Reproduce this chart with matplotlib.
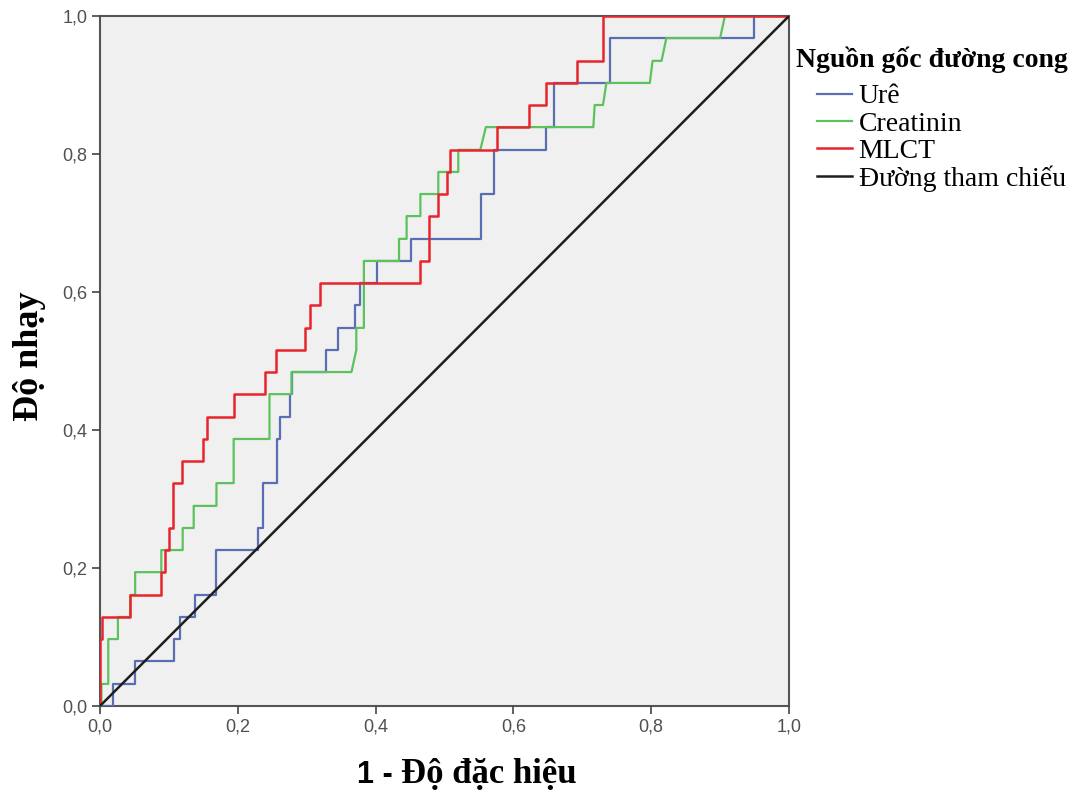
import matplotlib.pyplot as plt
from matplotlib.ticker import FuncFormatter

# ROC staircase vertices (1 - specificity, sensitivity)
ure_fpr = [0, 0.019, 0.019, 0.051, 0.051, 0.108, 0.108, 0.116, 0.116, 0.138, 0.138,
           0.169, 0.169, 0.230, 0.230, 0.237, 0.237, 0.257, 0.257, 0.261, 0.261,
           0.276, 0.276, 0.279, 0.279, 0.328, 0.328, 0.345, 0.345, 0.370, 0.370,
           0.377, 0.377, 0.402, 0.402, 0.452, 0.452, 0.553, 0.553, 0.572, 0.572,
           0.648, 0.648, 0.659, 0.659, 0.740, 0.740, 0.949, 0.949, 1.0]
ure_tpr = [0, 0, 0.032, 0.032, 0.065, 0.065, 0.097, 0.097, 0.129, 0.129, 0.161,
           0.161, 0.226, 0.226, 0.258, 0.258, 0.323, 0.323, 0.387, 0.387, 0.419,
           0.419, 0.452, 0.452, 0.484, 0.484, 0.516, 0.516, 0.548, 0.548, 0.581,
           0.581, 0.613, 0.613, 0.645, 0.645, 0.677, 0.677, 0.742, 0.742, 0.806,
           0.806, 0.839, 0.839, 0.903, 0.903, 0.968, 0.968, 1.0, 1.0]

creatinin_fpr = [0, 0.002, 0.002, 0.012, 0.012, 0.026, 0.026, 0.044, 0.044, 0.051, 0.051,
                 0.089, 0.089, 0.120, 0.120, 0.136, 0.136, 0.169, 0.169, 0.194, 0.194,
                 0.246, 0.246, 0.278, 0.278, 0.365, 0.372, 0.372, 0.383, 0.383, 0.434,
                 0.434, 0.445, 0.445, 0.465, 0.465, 0.491, 0.491, 0.520, 0.520, 0.552,
                 0.560, 0.716, 0.718, 0.730, 0.735, 0.798, 0.802, 0.815, 0.822, 0.900,
                 0.907, 1.0]
creatinin_tpr = [0, 0, 0.032, 0.032, 0.097, 0.097, 0.129, 0.129, 0.161, 0.161, 0.194,
                 0.194, 0.226, 0.226, 0.258, 0.258, 0.290, 0.290, 0.323, 0.323, 0.387,
                 0.387, 0.452, 0.452, 0.484, 0.484, 0.516, 0.548, 0.548, 0.645, 0.645,
                 0.677, 0.677, 0.710, 0.710, 0.742, 0.742, 0.774, 0.774, 0.806, 0.806,
                 0.839, 0.839, 0.871, 0.871, 0.903, 0.903, 0.935, 0.935, 0.968, 0.968,
                 1.0, 1.0]

mlct_fpr = [0, 0, 0.003, 0.003, 0.044, 0.044, 0.089, 0.089, 0.094, 0.094, 0.100,
            0.100, 0.106, 0.106, 0.119, 0.119, 0.150, 0.150, 0.155, 0.155, 0.194,
            0.194, 0.240, 0.240, 0.256, 0.256, 0.297, 0.297, 0.305, 0.305, 0.319,
            0.319, 0.465, 0.465, 0.478, 0.478, 0.491, 0.491, 0.503, 0.503, 0.508,
            0.508, 0.576, 0.576, 0.622, 0.622, 0.648, 0.648, 0.692, 0.692, 0.730,
            0.730, 1.0]
mlct_tpr = [0, 0.097, 0.097, 0.129, 0.129, 0.161, 0.161, 0.194, 0.194, 0.226, 0.226,
            0.258, 0.258, 0.323, 0.323, 0.355, 0.355, 0.387, 0.387, 0.419, 0.419,
            0.452, 0.452, 0.484, 0.484, 0.516, 0.516, 0.548, 0.548, 0.581, 0.581,
            0.613, 0.613, 0.645, 0.645, 0.710, 0.710, 0.742, 0.742, 0.774, 0.774,
            0.806, 0.806, 0.839, 0.839, 0.871, 0.871, 0.903, 0.903, 0.935, 0.935,
            1.0, 1.0]

ref_x = [0, 1]
ref_y = [0, 1]

ticks = [0, 0.2, 0.4, 0.6, 0.8, 1.0]

W, H = 1082, 794
fig = plt.figure(figsize=(W / 100, H / 100), dpi=100)
ax = fig.add_axes([100 / W, 1 - 706 / H, 689 / W, 690 / H])
ax.set_facecolor('#f0f0f0')

ax.plot(ure_fpr, ure_tpr, color='#5a6fb3', lw=1.6, label='Urê')
ax.plot(creatinin_fpr, creatinin_tpr, color='#5cc25e', lw=1.6, label='Creatinin')
ax.plot(mlct_fpr, mlct_tpr, color='#e8242c', lw=1.8, label='MLCT')
ax.plot(ref_x, ref_y, color='#1e1e1e', lw=1.8, label='Đường tham chiếu')

ax.set_xlim(0, 1)
ax.set_ylim(0, 1)
ax.set_xticks(ticks)
ax.set_yticks(ticks)
fmt = FuncFormatter(lambda v, p: f"{v:.1f}".replace('.', ','))
ax.xaxis.set_major_formatter(fmt)
ax.yaxis.set_major_formatter(fmt)
ax.tick_params(direction='out', length=6, width=1.2, color='#444444',
               labelcolor='#505050', labelsize=13, pad=3)
for lab in ax.get_xticklabels() + ax.get_yticklabels():
    lab.set_family('Liberation Sans')
for s in ax.spines.values():
    s.set_color('#555555')
    s.set_linewidth(1.5)
    s.set_zorder(1)

# x label: the "1 -" part is set in a sans face, the rest in bold serif
fig.text(401 / W, 1 - 775 / H, '1 - ', family='Liberation Sans', fontweight='bold',
         fontsize=22, ha='right', va='center')
fig.text(401 / W, 1 - 775 / H, 'Độ đặc hiệu', family='Liberation Serif', fontweight='bold',
         fontsize=25, ha='left', va='center')
fig.text(29 / W, 1 - 356 / H, 'Độ nhạy', family='Liberation Serif', fontweight='bold',
         fontsize=26, rotation=90, ha='center', va='center')

# legend: title set separately so the entries sit indented under it
fig.text(796 / W, 1 - 60 / H, 'Nguồn gốc đường cong', family='Liberation Serif',
         fontweight='bold', fontsize=20, ha='left', va='center')
leg = ax.legend(loc='upper left', bbox_to_anchor=(817 / W, 1 - 84 / H),
                bbox_transform=fig.transFigure, frameon=False,
                handlelength=1.25, handletextpad=0.25, labelspacing=0.06,
                borderpad=0, borderaxespad=0,
                prop={'family': 'Liberation Serif', 'size': 20})

fig.savefig('out.png', dpi=100, facecolor='white')
